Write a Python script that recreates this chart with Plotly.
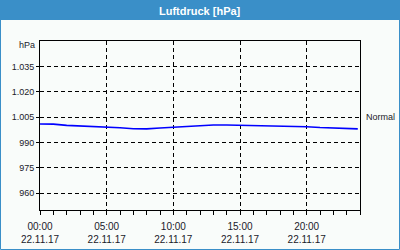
import plotly.graph_objects as go
import pandas as pd

# Data
times = pd.date_range("2017-11-22 00:00", periods=24, freq="h").tolist() + [pd.Timestamp("2017-11-22 23:50")]
pressure = [1000.9, 1000.8, 1000.1, 999.8, 999.7, 999.2, 998.7, 998.1, 998.0, 998.5,
            999.0, 999.6, 1000.2, 1000.3, 1000.3, 1000.2, 999.9, 999.7, 999.7, 999.7,
            999.3, 998.8, 998.6, 998.1, 998.0]
ytick_vals = [960, 975, 990, 1005, 1020, 1035]
ytick_text = ["960", "975", "990", "1.005", "1.020", "1.035"]
title_text = "Luftdruck [hPa]"
unit_label = "hPa"
normal_label = "Normal"
normal_value = 1005

BLUE = "#3A8FC8"
BG = "#F9FCFA"
FONT = "Liberation Sans"
TXT = "#1a1a2a"

fig = go.Figure()
fig.add_trace(go.Scatter(x=times, y=pressure, mode="lines",
                         line=dict(color="#0000FF", width=1.6), hoverinfo="skip"))

W, H = 400, 250
ml, mr, mt, mb = 40, 40, 41, 40
pw, ph = W - ml - mr, H - mt - mb

def px(xp):
    return (xp - ml) / pw

def py(yp):
    return (H - mb - yp) / ph

shapes = [
    dict(type="rect", xref="paper", yref="paper", x0=px(0), x1=px(400), y0=py(20), y1=py(0),
         fillcolor=BLUE, line=dict(width=0), layer="above"),
    dict(type="rect", xref="paper", yref="paper", x0=px(0.5), x1=px(399.5), y0=py(249.5), y1=py(10),
         fillcolor="rgba(0,0,0,0)", line=dict(color=BLUE, width=1), layer="below"),
]

fig.update_layout(
    width=W, height=H,
    margin=dict(l=ml, r=mr, t=mt, b=mb, pad=0, autoexpand=False),
    paper_bgcolor=BG, plot_bgcolor=BG,
    showlegend=False,
    font=dict(family=FONT, size=10, color=TXT),
    shapes=shapes,
    xaxis=dict(
        type="date",
        range=[pd.Timestamp("2017-11-22 00:00"), pd.Timestamp("2017-11-23 00:00")],
        tick0="2017-11-22 00:00", dtick=5 * 3600000,
        tickformat="%H:%M<br>%d.%m.%y",
        tickfont=dict(size=10),
        ticklabelstandoff=3,
        automargin=False,
        showgrid=True, gridcolor="black", griddash="4px,3px", gridwidth=1,
        showline=True, linecolor="black", linewidth=1, mirror=True,
        ticks="outside", ticklen=4, tickcolor="black",
        minor=dict(dtick=3600000, ticks="outside", ticklen=4, tickcolor="black", showgrid=False),
        zeroline=False, fixedrange=True,
    ),
    yaxis=dict(
        range=[950, 1050],
        tickvals=ytick_vals, ticktext=ytick_text,
        tickfont=dict(size=9),
        automargin=False,
        showgrid=True, gridcolor="black", griddash="4px,3px", gridwidth=1,
        showline=True, linecolor="black", linewidth=1, mirror=True,
        ticks="outside", ticklen=3, tickcolor="black",
        zeroline=False, fixedrange=True,
    ),
    annotations=[
        dict(text="<b>" + title_text + "</b>", xref="paper", yref="paper", x=0.5, y=py(10.5),
             showarrow=False, xanchor="center", yanchor="middle",
             font=dict(family=FONT, size=11, color="white")),
        dict(text=unit_label, xref="paper", yref="paper", x=px(37), y=py(45),
             showarrow=False, xanchor="right", yanchor="middle", font=dict(size=9)),
        dict(text=normal_label, xref="paper", yref="y", x=1, y=normal_value, xshift=4,
             showarrow=False, xanchor="left", yanchor="middle", font=dict(size=9)),
    ],
)

fig.write_html("out.html")
